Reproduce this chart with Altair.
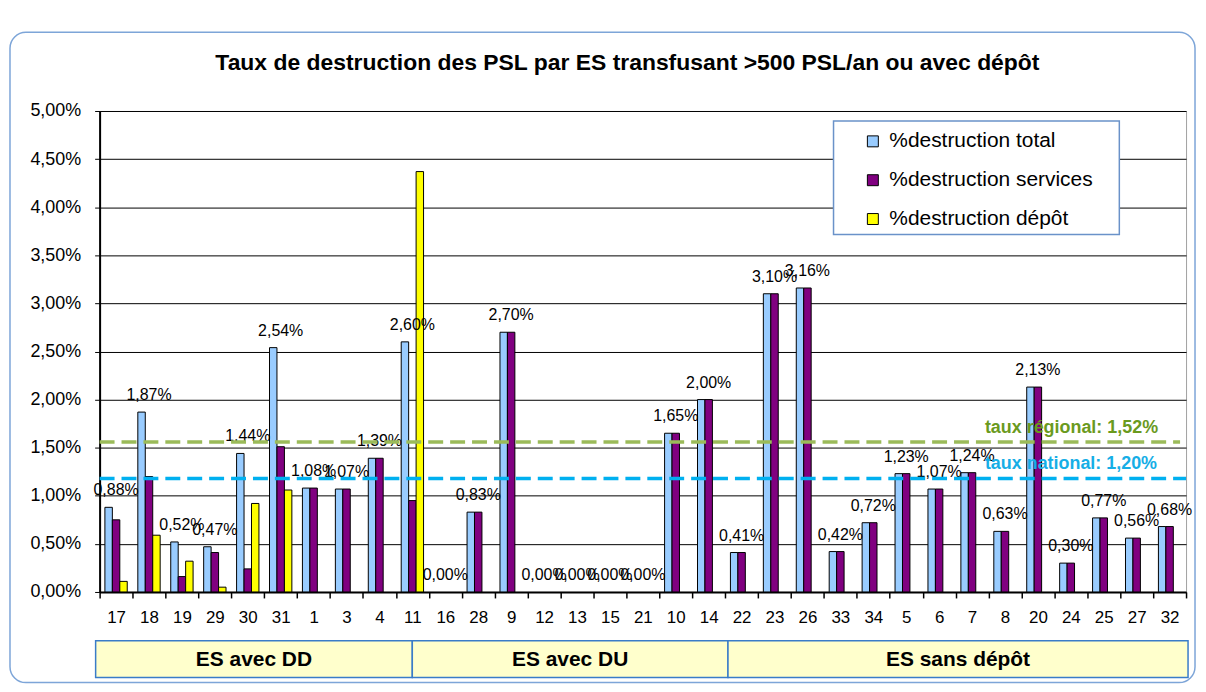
import altair as alt
import pandas as pd

FONT = "Liberation Sans"

# ---------------- data ----------------
categories = ["17", "18", "19", "29", "30", "31", "1", "3", "4", "11",
              "16", "28", "9", "12", "13", "15", "21", "10", "14",
              "22", "23", "26", "33", "34", "5", "6", "7", "8", "20", "24", "25", "27", "32"]
total = [0.88, 1.87, 0.52, 0.47, 1.44, 2.54, 1.08, 1.07, 1.39, 2.60,
         0.00, 0.83, 2.70, 0.00, 0.00, 0.00, 0.00, 1.65, 2.00,
         0.41, 3.10, 3.16, 0.42, 0.72, 1.23, 1.07, 1.24, 0.63, 2.13, 0.30, 0.77, 0.56, 0.68]
services = [0.75, 1.20, 0.16, 0.41, 0.24, 1.51, 1.08, 1.07, 1.39, 0.95,
            0.00, 0.83, 2.70, 0.00, 0.00, 0.00, 0.00, 1.65, 2.00,
            0.41, 3.10, 3.16, 0.42, 0.72, 1.23, 1.07, 1.24, 0.63, 2.13, 0.30, 0.77, 0.56, 0.68]
depot = [0.11, 0.59, 0.32, 0.05, 0.92, 1.06, None, None, None, 4.37,
         None, None, None, None, None, None, None, None, None,
         None, None, None, None, None, None, None, None, None, None, None, None, None, None]
series = ["%destruction total", "%destruction services", "%destruction dépôt"]
series_colors = ["#99CCFF", "#800080", "#FFFF00"]
groups = ["ES avec DD", "ES avec DU", "ES sans dépôt"]
chart_title = "Taux de destruction des PSL par ES transfusant >500 PSL/an ou avec dépôt"
ref_labels = ["taux régional: 1,52%", "taux national: 1,20%"]
ref_levels = [1.56, 1.18]          # level at which each dashed line is drawn
ref_line_colors = ["#9BBB59", "#00B0F0"]
ref_text_colors = ["#6A9A1E", "#16AEE6"]
y_ticks = [0, 0.5, 1, 1.5, 2, 2.5, 3, 3.5, 4, 4.5, 5]

# ---------------- tables ----------------
rows = []
for i, c in enumerate(categories):
    for s, vals in zip(series, [total, services, depot]):
        v = vals[i]
        if v is None or v == 0:
            continue
        rows.append({"cat": c, "serie": s, "value": v})
bars_df = pd.DataFrame(rows)
labels_df = pd.DataFrame({"cat": categories, "total": total})

W, H = 1091, 483

x_scale = alt.Scale(domain=categories, paddingInner=0, paddingOuter=0)
y_scale = alt.Scale(domain=[0, 5], nice=False)

one = alt.Data(values=[{}])

# outer rounded frame
frame = alt.Chart(one).mark_rect(
    fillOpacity=0, stroke="#7DA5D8", strokeWidth=1.5, cornerRadius=16
).encode(x=alt.value(-90), x2=alt.value(1100), y=alt.value(-79), y2=alt.value(574))

title = alt.Chart(one).mark_text(
    text=chart_title, font=FONT, fontSize=23, fontWeight="bold", align="center",
    baseline="middle", color="black"
).encode(x=alt.value(530), y=alt.value(-48))

bars = alt.Chart(bars_df).mark_bar(stroke="black", strokeWidth=1).encode(
    x=alt.X("cat:N", scale=x_scale, title=None,
            axis=alt.Axis(labelAngle=0, tickBand="extent", tickSize=6, tickColor="black",
                          tickWidth=1.5, domainColor="black", domainWidth=2,
                          labelFontSize=17, labelPadding=12, labelColor="black", grid=False)),
    xOffset=alt.XOffset("serie:N", scale=alt.Scale(domain=series, paddingInner=0, paddingOuter=0.71)),
    y=alt.Y("value:Q", scale=y_scale, title=None,
            axis=alt.Axis(values=y_ticks, grid=True, gridColor="black", gridWidth=1,
                          tickSize=5, tickColor="black", domainColor="black", domainWidth=2,
                          labelFontSize=18, labelPadding=14, labelColor="black",
                          labelExpr="replace(format(datum.value, '.2f'), '.', ',') + '%'")),
    color=alt.Color("serie:N", scale=alt.Scale(domain=series, range=series_colors),
                    legend=alt.Legend(orient="none", legendX=766, legendY=20, title=None,
                                      symbolType="square", symbolSize=121,
                                      symbolStrokeColor="black", symbolStrokeWidth=1,
                                      labelFontSize=21, labelFont=FONT, labelColor="black",
                                      labelOffset=6, rowPadding=17, padding=0,
                                      labelLimit=400)),
)

labels = alt.Chart(labels_df).transform_calculate(
    txt="replace(format(datum.total, '.2f'), '.', ',') + '%'"
).mark_text(font=FONT, fontSize=16, baseline="alphabetic", dy=-12, align="center", color="black").encode(
    x=alt.X("cat:N", scale=x_scale),
    y=alt.Y("total:Q", scale=y_scale),
    text="txt:N",
)

ref_layers = []
for lab, lvl, lc, tc, x2 in zip(ref_labels, ref_levels, ref_line_colors, ref_text_colors, [1085, 1091]):
    ref_layers.append(
        alt.Chart(one).mark_rule(color=lc, strokeWidth=3.5, strokeDash=[15, 7]).encode(
            x=alt.value(0), x2=alt.value(x2), y=alt.datum(lvl))
    )
    ref_layers.append(
        alt.Chart(one).mark_text(text=lab, font=FONT, fontSize=18, fontWeight="bold", color=tc,
                                 align="left", baseline="middle", dy=-14).encode(
            x=alt.value(889), y=alt.datum(lvl))
    )

legend_box = alt.Chart(one).mark_rect(fill="white", stroke="#6A92C9", strokeWidth=1.5).encode(
    x=alt.value(737), x2=alt.value(1024), y=alt.value(10), y2=alt.value(124))

box_edges = [-4, 314, 631, 1093]
box_layers = []
for g, x0, x1 in zip(groups, box_edges[:-1], box_edges[1:]):
    box_layers.append(
        alt.Chart(one).mark_rect(fill="#FFFFCC", stroke="#3A7CC8", strokeWidth=1.5).encode(
            x=alt.value(x0), x2=alt.value(x1), y=alt.value(532), y2=alt.value(569))
    )
    box_layers.append(
        alt.Chart(one).mark_text(text=g, font=FONT, fontSize=21, fontWeight="bold", color="black",
                                 align="center", baseline="middle").encode(
            x=alt.value((x0 + x1) / 2), y=alt.value(551))
    )

chart = alt.layer(
    frame, title, legend_box, bars, labels, *ref_layers, *box_layers
).properties(
    width=W, height=H,
    autosize=alt.AutoSizeParams(type="none"),
    padding={"left": 92, "top": 102, "right": 12, "bottom": 92},
    background="white",
).configure_view(stroke="#A0A0A0", strokeWidth=1).configure_axis(labelFont=FONT)

chart.save("out.html", embed_options={"renderer": "svg", "actions": False})
